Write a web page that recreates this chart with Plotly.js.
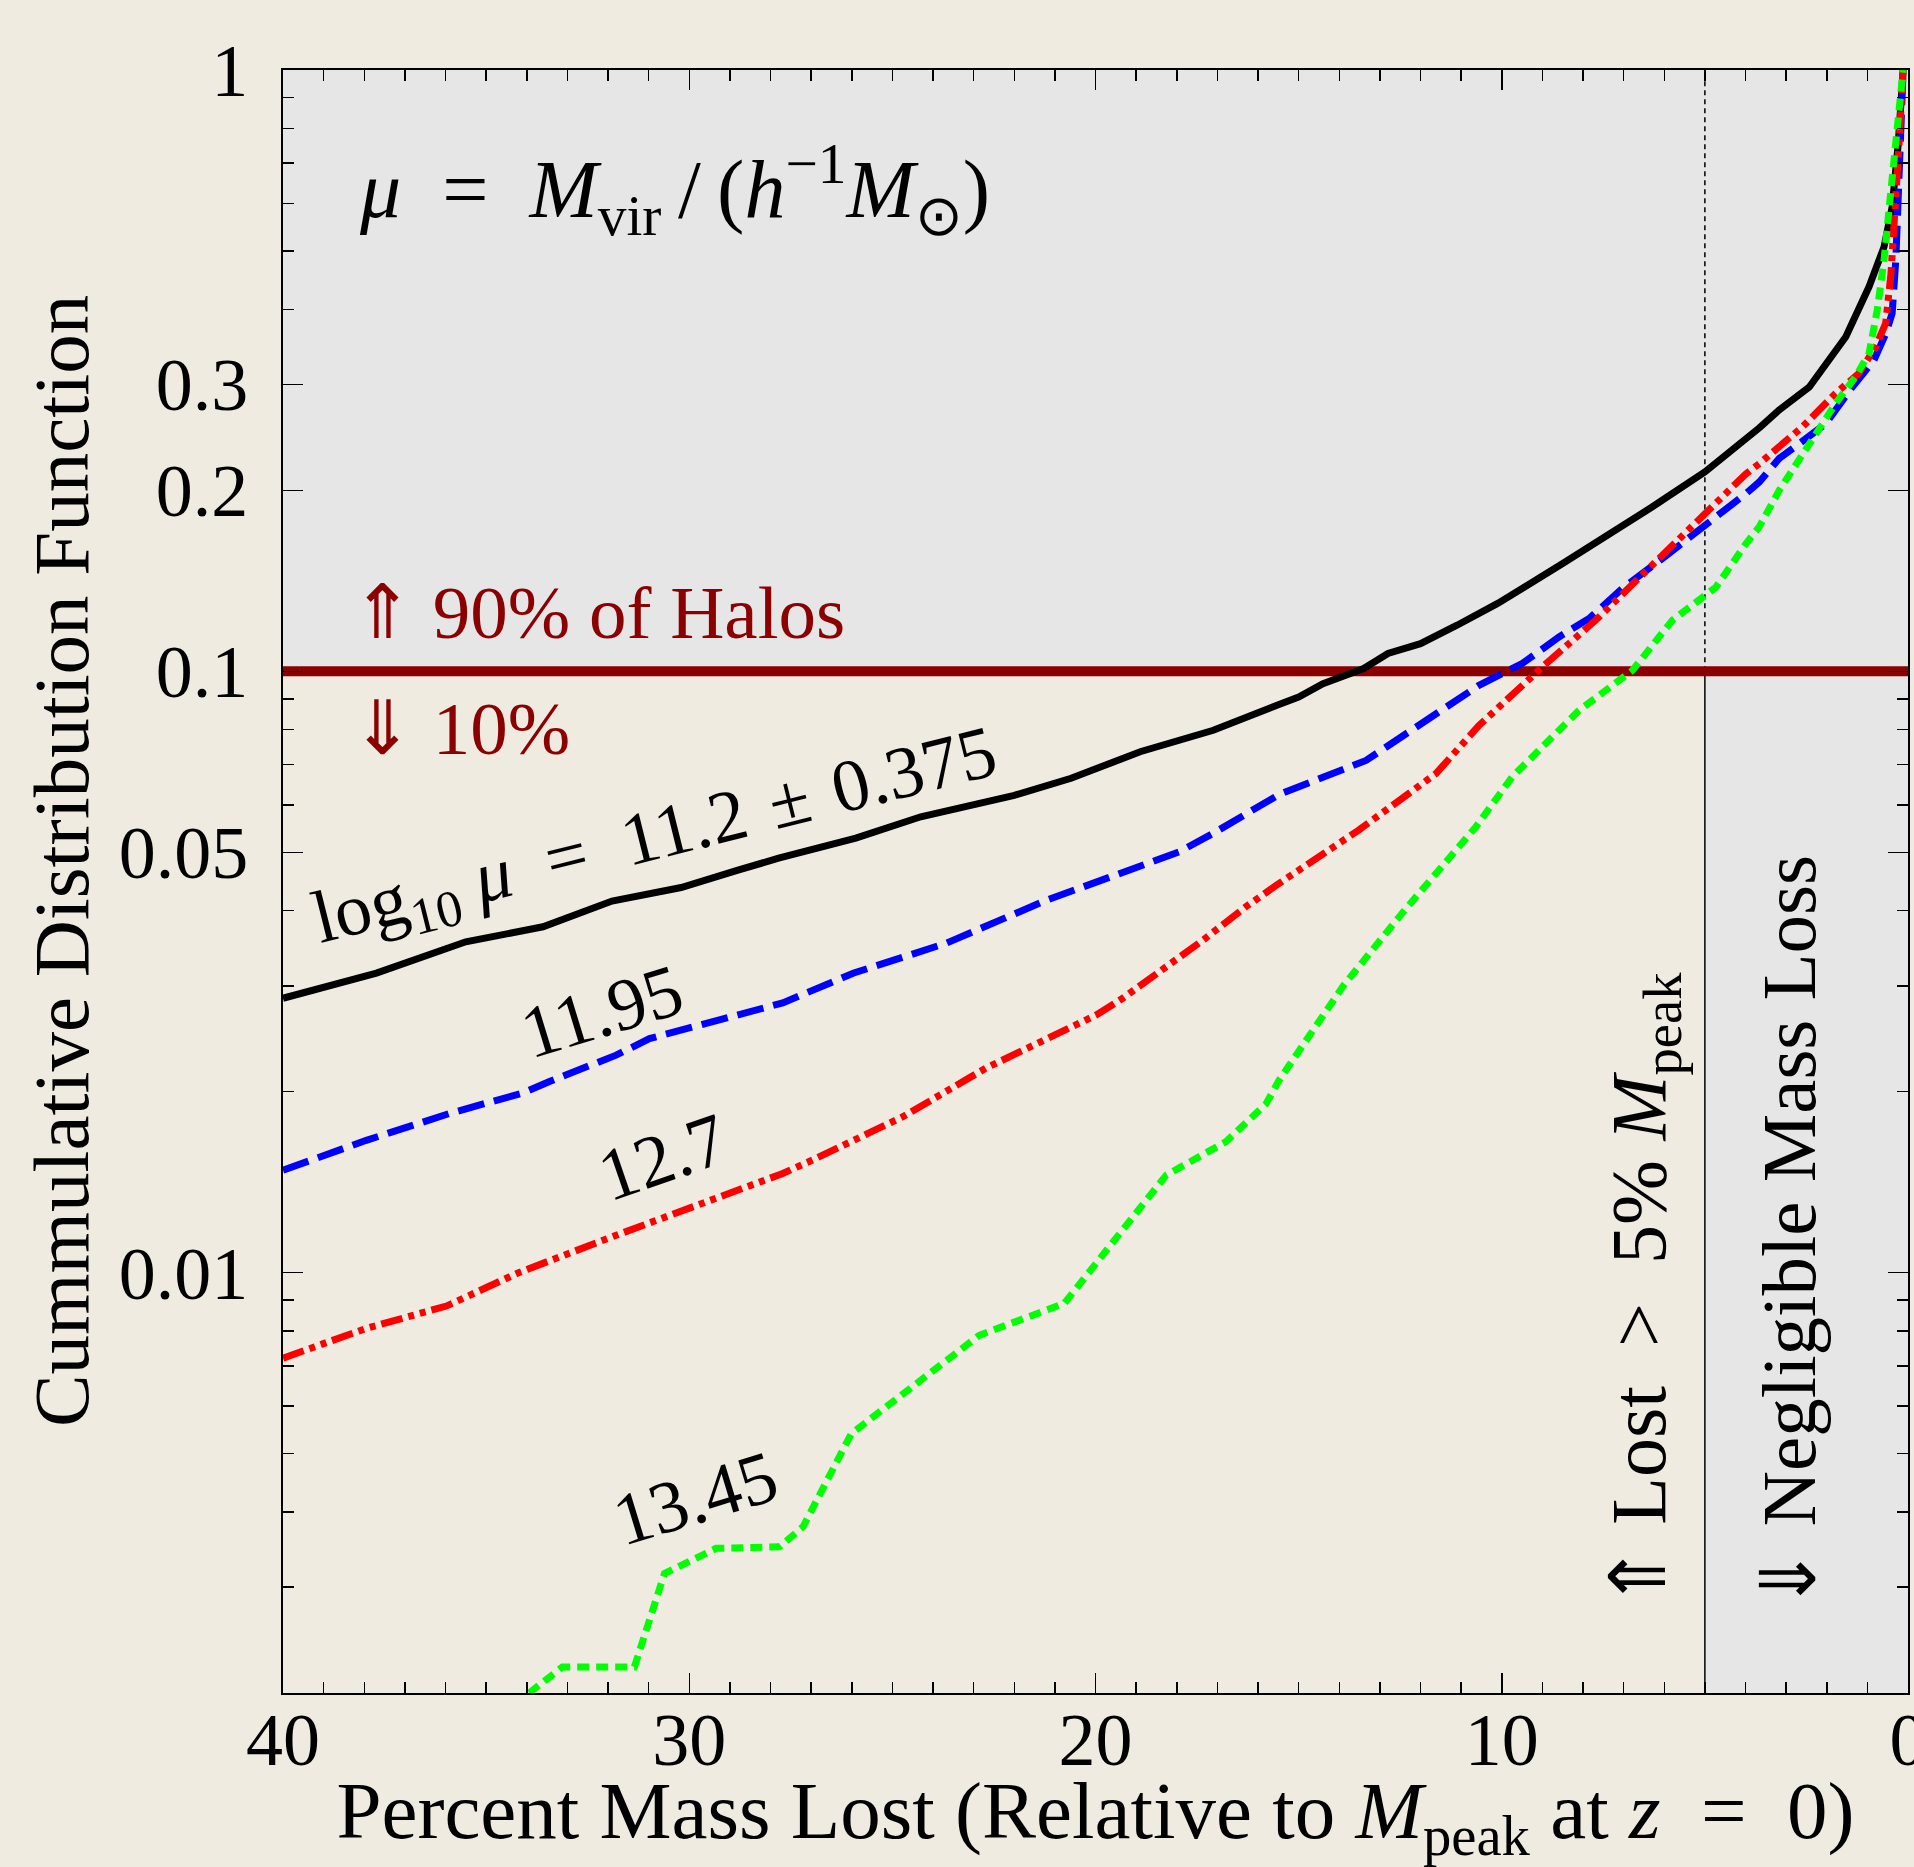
<!DOCTYPE html>
<html><head><meta charset="utf-8">
<script src="https://cdn.plot.ly/plotly-3.0.1.min.js"></script>
<style>html,body{margin:0;padding:0;background:#efebe0;} #chart{width:1914px;height:1867px;}</style>
</head><body><div id="chart"></div>
<script>
// ---- data ----
const xBlack = [40, 37.7, 35.5, 33.6, 31.9, 30.2, 28.8, 27.8, 25.9, 24.3, 22.0, 20.6, 18.9, 17.1, 15.5, 15.0, 14.4, 13.4, 12.8, 12.0, 11.1, 10.1, 8.5, 7.3, 6.3, 5.0, 4.0, 3.66, 3.17, 2.43, 1.53, 0.96, 0.59, 0.39, 0.24, 0.12];
const yBlack = [0.0286, 0.0315, 0.0355, 0.0376, 0.0415, 0.0437, 0.0467, 0.0489, 0.0528, 0.0573, 0.0622, 0.0664, 0.0735, 0.0798, 0.0880, 0.0906, 0.0954, 0.1011, 0.1071, 0.1112, 0.1193, 0.1297, 0.1511, 0.1695, 0.1876, 0.2146, 0.2423, 0.254, 0.272, 0.297, 0.360, 0.436, 0.508, 0.592, 0.754, 1.0];

const xBlue = [40, 37.95, 35.9, 34.1, 33.44, 31.8, 30.98, 29.34, 27.7, 25.95, 23.68, 21.22, 17.94, 17.12, 15.48, 13.34, 12.03, 10.56, 9.49, 8.59, 7.85, 7.03, 6.05, 5.02, 3.99, 3.66, 3.17, 2.68, 2.03, 1.37, 0.84, 0.55, 0.39, 0.30, 0.22, 0.12];
const yBlue = [0.0148, 0.0166, 0.0184, 0.0199, 0.0208, 0.0230, 0.0245, 0.0262, 0.0281, 0.0315, 0.0353, 0.0416, 0.0501, 0.0537, 0.0624, 0.0711, 0.0813, 0.0948, 0.1031, 0.1141, 0.1224, 0.1374, 0.154, 0.1738, 0.1975, 0.2065, 0.226, 0.239, 0.258, 0.297, 0.329, 0.364, 0.394, 0.483, 0.708, 1.0];

const xRed = [40, 37.95, 35.98, 34.2, 31.8, 30.16, 27.7, 26.96, 24.74, 22.69, 19.99, 19.33, 17.36, 16.30, 15.48, 13.53, 11.62, 10.56, 9.0, 7.69, 6.29, 5.02, 3.99, 3.66, 2.60, 1.78, 1.21, 0.80, 0.55, 0.42, 0.34, 0.22, 0.12];
const yRed = [0.00721, 0.00808, 0.00880, 0.0100, 0.01154, 0.0127, 0.01462, 0.0154, 0.01817, 0.0219, 0.0268, 0.0286, 0.0357, 0.0406, 0.0444, 0.0544, 0.0676, 0.0813, 0.1017, 0.1216, 0.150, 0.1817, 0.213, 0.2215, 0.255, 0.290, 0.313, 0.346, 0.379, 0.458, 0.548, 0.754, 1.0];

const xGreen = [33.94, 33.12, 31.35, 30.61, 29.34, 27.78, 27.20, 26.01, 22.86, 20.77, 18.26, 16.79, 15.80, 15.48, 13.9, 12.4, 10.64, 9.74, 8.10, 6.78, 5.80, 5.02, 4.73, 3.99, 3.66, 3.17, 2.60, 1.78, 1.29, 0.96, 0.76, 0.59, 0.47, 0.30, 0.12];
const yGreen = [0.0020, 0.00221, 0.00221, 0.00316, 0.00348, 0.00350, 0.00378, 0.00540, 0.00787, 0.00889, 0.01453, 0.01651, 0.0191, 0.0209, 0.030, 0.040, 0.0551, 0.0668, 0.0861, 0.1004, 0.1216, 0.1330, 0.138, 0.163, 0.174, 0.200, 0.230, 0.279, 0.309, 0.3375, 0.398, 0.483, 0.584, 0.754, 1.0];

const seriesLabels = ['log<sub>10</sub> <i>μ</i>\u2002=\u200211.2\u2004±\u20040.375', '11.95', '12.7', '13.45'];

const xTickVals = [40, 30, 20, 10, 0];
const xTickText = ['40', '30', '20', '10', '0'];
const xMinorVals = [39,38,37,36,35,34,33,32,31,29,28,27,26,25,24,23,22,21,19,18,17,16,15,14,13,12,11,9,8,7,6,5,4,3,2,1];
const yTickVals = [0.01, 0.05, 0.1, 0.2, 0.3, 1];
const yTickText = ['0.01', '0.05', '0.1', '0.2', '0.3', '1'];
const yMinorVals = [0.002,0.003,0.004,0.005,0.006,0.007,0.008,0.009,0.02,0.03,0.04,0.06,0.07,0.08,0.09,0.4,0.5,0.6,0.7,0.8,0.9];

const xRange = [40, 0];
const yRangeData = [0.002, 1];
const threshold = 0.1;      // 10% CDF line
const negligibleCut = 5;    // 5% mass loss

// ---- styling ----
const FONT = '"Liberation Serif", "Times New Roman", serif';
const BEIGE = '#efebe0';
const GRAY = '#e6e6e6';
const DARKRED = '#8b0000';
const yRangeLog = [Math.log10(yRangeData[0]), Math.log10(yRangeData[1])];

function line(x, y, color, width, dash) {
  return {x: x, y: y, type: 'scatter', mode: 'lines', line: {color: color, width: width, dash: dash}, hoverinfo: 'skip', showlegend: false};
}
const traces = [
  line(xBlack, yBlack, '#000000', 7, 'solid'),
  line(xBlue, yBlue, '#0000ff', 7, '27px,10px'),
  line(xRed, yRed, '#ff0000', 7, '22px,6px,6px,6px,6px,6px'),
  line(xGreen, yGreen, '#00ff00', 7, '12px,7px'),
  {x: [], y: [], xaxis: 'x2', yaxis: 'y2', type: 'scatter', mode: 'lines', showlegend: false, hoverinfo: 'skip'}
];

const tickCommon = {ticks: 'inside', ticklen: 20, tickwidth: 1.5, tickcolor: '#000', showgrid: false, zeroline: false,
  showline: true, linecolor: '#000', linewidth: 2};
const xMinor = {tickmode: 'array', tickvals: xMinorVals, ticks: 'inside', ticklen: 11, tickwidth: 1.5, tickcolor: '#000', showgrid: false};
const yMinor = {tickmode: 'array', tickvals: yMinorVals, ticks: 'inside', ticklen: 11, tickwidth: 1.5, tickcolor: '#000', showgrid: false};

const layout = {
  width: 1914, height: 1867,
  paper_bgcolor: BEIGE, plot_bgcolor: GRAY,
  margin: {l: 283, r: 6, t: 70, b: 174, pad: 0},
  showlegend: false,
  font: {family: FONT, size: 74, color: '#000'},
  xaxis: Object.assign({}, tickCommon, {
    range: xRange, autorange: false, tickmode: 'array', tickvals: xTickVals, ticktext: xTickText,
    minor: xMinor, ticklabelstandoff: -19, ticklabeloverflow: 'allow',
    title: {text: 'Percent Mass Lost (Relative to <i>M</i><sub>peak</sub> at <i>z</i>\u2002=\u20020)', font: {size: 81}, standoff: 52}
  }),
  yaxis: Object.assign({}, tickCommon, {
    type: 'log', range: yRangeLog, autorange: false, tickmode: 'array', tickvals: yTickVals, ticktext: yTickText,
    minor: yMinor, ticklabelstandoff: 18
  }),
  xaxis2: Object.assign({}, tickCommon, {
    overlaying: 'x', side: 'top', anchor: 'y2', range: xRange, autorange: false, tickmode: 'array', tickvals: xTickVals,
    showticklabels: false, minor: xMinor
  }),
  yaxis2: Object.assign({}, tickCommon, {
    overlaying: 'y', side: 'right', anchor: 'x2', type: 'log', range: yRangeLog, autorange: false, tickmode: 'array',
    tickvals: yTickVals, showticklabels: false, minor: yMinor
  }),
  shapes: [
    {type: 'rect', xref: 'x', yref: 'y', x0: xRange[0], x1: negligibleCut, y0: yRangeData[0], y1: threshold,
      fillcolor: BEIGE, line: {width: 0}, layer: 'below'},
    {type: 'line', xref: 'x', yref: 'y', x0: negligibleCut, x1: negligibleCut, y0: threshold, y1: yRangeData[1],
      line: {color: '#000', width: 1.5, dash: '5px,4px'}, layer: 'below'},
    {type: 'line', xref: 'x', yref: 'y', x0: negligibleCut, x1: negligibleCut, y0: yRangeData[0], y1: threshold,
      line: {color: '#000', width: 1.5}, layer: 'below'},
    {type: 'line', xref: 'x', yref: 'y', x0: xRange[0], x1: xRange[1], y0: threshold, y1: threshold,
      line: {color: DARKRED, width: 10}, layer: 'below'}
  ],
  annotations: [
    // y-axis title
    {xref: 'paper', yref: 'paper', x: -0.1367, y: 0.5125, xanchor: 'center', yanchor: 'middle', showarrow: false,
      textangle: -90, text: 'Cummulative Distribution Function', font: {size: 79, color: '#000'}},
    {xref: 'paper', yref: 'paper', x: 0.0455, y: 0.9265, xanchor: 'left', yanchor: 'middle', showarrow: false,
      text: '<i>μ</i>\u2002=\u2002<i>M</i><sub>vir</sub>\u2009/\u2009(<i>h</i><sup>−1</sup><i>M</i><sub>⊙</sub>)', font: {size: 82, color: '#000'}},
    {xref: 'paper', yref: 'paper', x: 0.0404, y: 0.666, xanchor: 'left', yanchor: 'middle', showarrow: false,
      text: '⇑ 90% of Halos', font: {size: 75, color: DARKRED}},
    {xref: 'paper', yref: 'paper', x: 0.0404, y: 0.5944, xanchor: 'left', yanchor: 'middle', showarrow: false,
      text: '⇓ 10%', font: {size: 75, color: DARKRED}},
    {xref: 'paper', yref: 'paper', x: 0.229, y: 0.526, xanchor: 'center', yanchor: 'middle', showarrow: false,
      textangle: -14, text: seriesLabels[0], font: {size: 74, color: '#000'}},
    {xref: 'paper', yref: 'paper', x: 0.1964, y: 0.420, xanchor: 'center', yanchor: 'middle', showarrow: false,
      textangle: -17, text: seriesLabels[1], font: {size: 74, color: '#000'}},
    {xref: 'paper', yref: 'paper', x: 0.2336, y: 0.330, xanchor: 'center', yanchor: 'middle', showarrow: false,
      textangle: -19, text: seriesLabels[2], font: {size: 74, color: '#000'}},
    {xref: 'paper', yref: 'paper', x: 0.2539, y: 0.120, xanchor: 'center', yanchor: 'middle', showarrow: false,
      textangle: -17, text: seriesLabels[3], font: {size: 74, color: '#000'}},
    {xref: 'paper', yref: 'paper', x: 0.8376, y: 0.2476, xanchor: 'center', yanchor: 'middle', showarrow: false,
      textangle: -90, text: '⇑ Lost\u2002>\u20025% <i>M</i><sub>peak</sub>', font: {size: 78, color: '#000'}},
    {xref: 'paper', yref: 'paper', x: 0.9266, y: 0.2834, xanchor: 'center', yanchor: 'middle', showarrow: false,
      textangle: -90, text: '⇓ Negligible Mass Loss', font: {size: 77, color: '#000'}}
  ]
};

Plotly.newPlot('chart', traces, layout, {displayModeBar: false, staticPlot: true});
</script></body></html>
